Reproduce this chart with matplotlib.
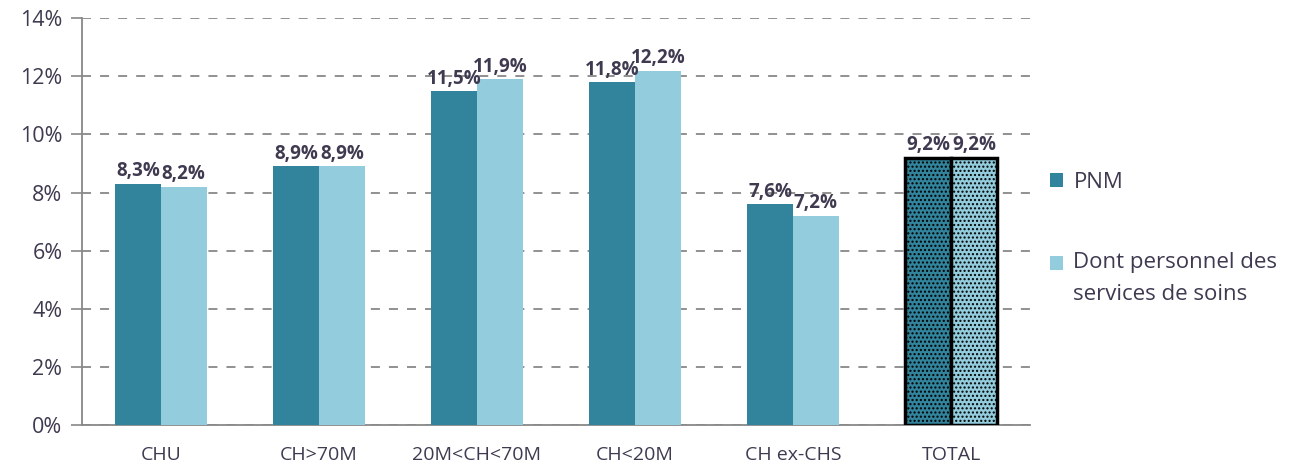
import numpy as np
import matplotlib.pyplot as plt
from matplotlib.ticker import PercentFormatter
from matplotlib.patches import Patch

plt.rcParams['font.family'] = ['Open Sans', 'DejaVu Sans']
plt.rcParams['hatch.color'] = 'black'
plt.rcParams['hatch.linewidth'] = 1.0

categories = ['CHU', 'CH>70M', '20M<CH<70M', 'CH<20M', 'CH ex-CHS', 'TOTAL']
pnm = [8.3, 8.9, 11.5, 11.8, 7.6, 9.2]
soins = [8.2, 8.9, 11.9, 12.2, 7.2, 9.2]
series_names = ['PNM', 'Dont personnel des\nservices de soins']

dark = '#31849B'
light = '#93CDDD'
text_col = '#3F3A50'

fig = plt.figure(figsize=(12.99, 4.67), dpi=100)
ax = fig.add_axes([0.063, 0.09, 0.73, 0.871])

x = np.arange(len(categories))
w = 0.29
b1 = ax.bar(x - w / 2, pnm, w, color=dark, label=series_names[0], zorder=3)
b2 = ax.bar(x + w / 2, soins, w, color=light, label=series_names[1], zorder=3)

# total bars: dotted pattern with thick black outline
for bars in (b1, b2):
    bars[-1].set_hatch('....')
    bars[-1].set_edgecolor('black')
    bars[-1].set_linewidth(2.5)

def fmt(v):
    return f'{v:.1f}%'.replace('.', ',')

for bars, vals in ((b1, pnm), (b2, soins)):
    for bar, v in zip(bars, vals):
        ax.text(bar.get_x() + bar.get_width() / 2, v + 0.08, fmt(v),
                ha='center', va='bottom', fontsize=13.5, fontweight='bold',
                color=text_col, zorder=4)

ax.set_xlim(-0.5, len(categories) - 0.5)
ax.set_ylim(0, 14)
ax.set_yticks(np.arange(0, 15, 2))
ax.yaxis.set_major_formatter(PercentFormatter(decimals=0))
ax.set_xticks(x)
ax.set_xticklabels(categories)
ax.tick_params(axis='x', length=0, labelsize=14, colors=text_col, pad=15)
ax.tick_params(axis='y', length=8, width=1.2, color='#888888',
               labelsize=15.5, labelcolor=text_col, pad=6)

ax.grid(axis='y', linestyle=(0, (5, 5)), color='#888888', linewidth=1.3, zorder=0)
for side in ('top', 'right'):
    ax.spines[side].set_visible(False)
for side in ('left', 'bottom'):
    ax.spines[side].set_color('#888888')
    ax.spines[side].set_linewidth(1.3)

# legend with plain coloured squares
handles = [Patch(facecolor=dark), Patch(facecolor=light)]
leg = fig.legend(handles, series_names, loc='center left',
                 bbox_to_anchor=(0.793, 0.49), frameon=False,
                 fontsize=16, handlelength=0.6, handleheight=0.6,
                 handletextpad=0.45, labelspacing=2.65, labelcolor=text_col)
for t in leg.get_texts():
    t.set_linespacing(1.7)
# square of the two-line entry sits next to its first line
sq = leg.legend_handles[1]
sq.set_y(sq.get_y() + 11)

fig.savefig('out.png', dpi=100)
